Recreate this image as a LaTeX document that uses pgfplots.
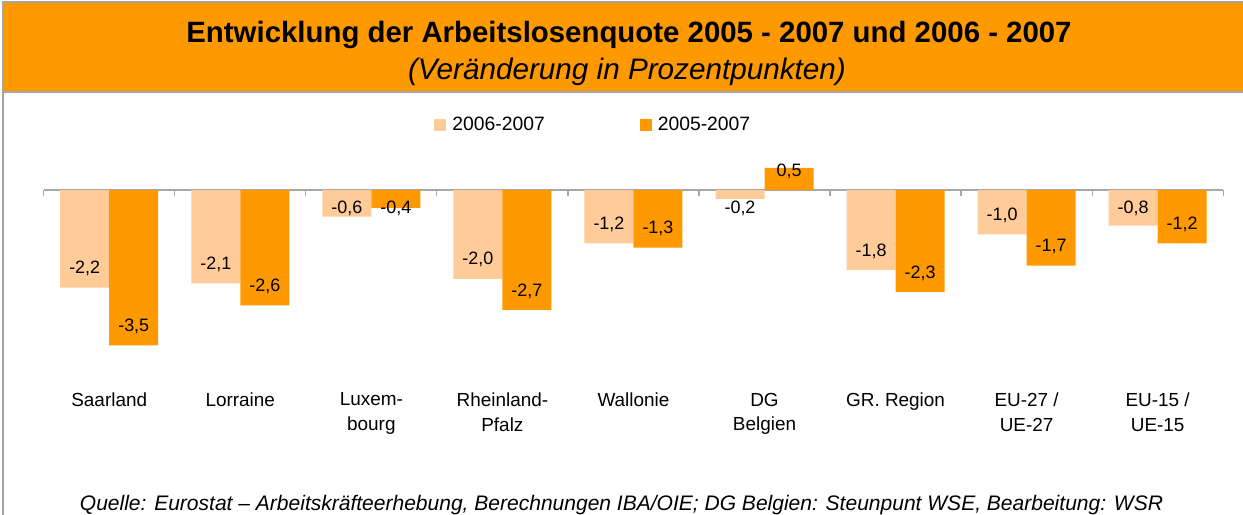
\documentclass[border=0pt]{standalone}
\usepackage{fontspec}
\setmainfont{Liberation Sans}
\usepackage{pgfplots}
\usepackage{pgfplotstable}
\pgfplotsset{compat=1.18}
\definecolor{orangeA}{HTML}{FF9900}
\definecolor{orangeL}{HTML}{FFCC99}
\definecolor{framegray}{HTML}{A6A6A6}
\definecolor{axisgray}{HTML}{A8A8A8}
\pgfplotstableread{
x l ll ls d dl ds
0 -2.2 -2,2 19 -3.5 -3,5 19
1 -2.1 -2,1 19 -2.6 -2,6 19
2 -0.6 -0,6 8.6 -0.4 -0,4 -0.2
3 -2.0 -2,0 19 -2.7 -2,7 19
4 -1.2 -1,2 19 -1.3 -1,3 19
5 -0.2 -0,2 -9 0.5 0,5 -4
6 -1.8 -1,8 19 -2.3 -2,3 19
7 -1.0 -1,0 19 -1.7 -1,7 19
8 -0.8 -0,8 17.5 -1.2 -1,2 19
}\data
\begin{document}
\begin{tikzpicture}
\useasboundingbox (0,0) rectangle (1243bp,515bp);
\fill[white] (0,0) rectangle (1243bp,515bp);
\fill[orangeA] (3bp,423bp) rectangle (1260bp,513bp);
\draw[framegray, line width=2bp] (3bp,-10bp) -- (3bp,513bp) -- (1260bp,513bp);
\draw[framegray, line width=1.5bp] (3bp,423bp) -- (1260bp,423bp);
\node[anchor=base, inner sep=0pt, font=\bfseries\fontsize{29.5}{31}\selectfont] at (629bp,472bp) {Entwicklung der Arbeitslosenquote 2005 - 2007 und 2006 - 2007};
\node[anchor=base, inner sep=0pt, font=\itshape\fontsize{29.8}{31}\selectfont] at (627bp,435bp) {(Veränderung in Prozentpunkten)};
\node[anchor=base, inner sep=0pt, font=\itshape\fontsize{21.1}{22}\selectfont] at (621.5bp,5bp) {Quelle: Eurostat – Arbeitskräfteerhebung, Berechnungen IBA/OIE; DG Belgien: Steunpunt WSE, Bearbeitung: WSR};
\begin{axis}[
  at={(43.7bp,129.6bp)}, anchor=south west,
  scale only axis, width=1179.6bp, height=239.8bp,
  xmin=-0.5, xmax=8.5, ymin=-4.4, ymax=1.0,
  clip=false,
  ybar=0pt, bar width=49bp,
  axis y line=none, axis x line*=bottom,
  x axis line style={draw=none},
  major tick length=0pt,
  xtick={0,...,8},
  xticklabels={Saarland, Lorraine, {Luxem-\\bourg}, {Rheinland-\\Pfalz}, Wallonie, {DG\\Belgien}, GR. Region, {EU-27 /\\UE-27}, {EU-15 /\\UE-15}},
  xticklabel style={font=\fontsize{19}{24.5}\selectfont, align=center, anchor=north, yshift=-4bp},
  nodes near coords, point meta=explicit symbolic,
  every node near coord/.append style={anchor=center, font=\fontsize{18}{20}\selectfont, yshift=\myshift bp},
  legend columns=2,
  legend style={at={(0.3285,1.086)}, anchor=west, draw=none, fill=none, font=\fontsize{19.4}{20}\selectfont,
    /tikz/every odd column/.append style={column sep=4bp},
    /tikz/every even column/.append style={column sep=93bp}},
  legend image code/.code={\draw[#1,draw=none] (0bp,-6bp) rectangle (12bp,6bp);},
]
\draw[axisgray, line width=1.2bp] (axis cs:-0.5,0) -- (axis cs:8.5,0);
\draw[axisgray, line width=1.2bp]
  (axis cs:-0.5,0) -- ([yshift=-6bp]axis cs:-0.5,0)
  (axis cs:0.5,0) -- ([yshift=-6bp]axis cs:0.5,0)
  (axis cs:1.5,0) -- ([yshift=-6bp]axis cs:1.5,0)
  (axis cs:2.5,0) -- ([yshift=-6bp]axis cs:2.5,0)
  (axis cs:3.5,0) -- ([yshift=-6bp]axis cs:3.5,0)
  (axis cs:4.5,0) -- ([yshift=-6bp]axis cs:4.5,0)
  (axis cs:5.5,0) -- ([yshift=-6bp]axis cs:5.5,0)
  (axis cs:6.5,0) -- ([yshift=-6bp]axis cs:6.5,0)
  (axis cs:7.5,0) -- ([yshift=-6bp]axis cs:7.5,0)
  (axis cs:8.5,0) -- ([yshift=-6bp]axis cs:8.5,0);
\addplot[fill=orangeL, draw=none, visualization depends on={\thisrow{ls} \as \myshift}] table[x=x, y=l, meta=ll] {\data};
\addlegendentry{2006-2007}
\addplot[fill=orangeA, draw=none, visualization depends on={\thisrow{ds} \as \myshift}] table[x=x, y=d, meta=dl] {\data};
\addlegendentry{2005-2007}
\end{axis}
\end{tikzpicture}
\end{document}
